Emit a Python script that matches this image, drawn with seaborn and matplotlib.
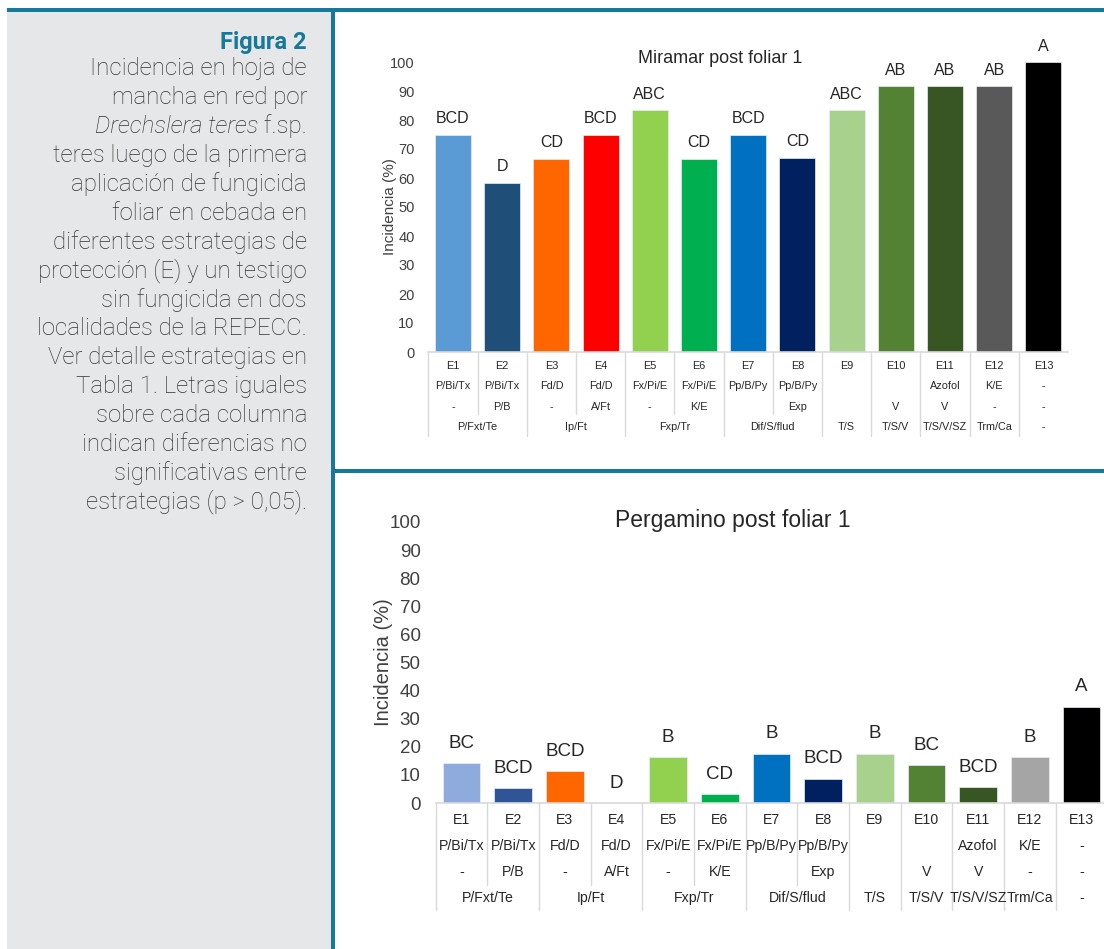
import numpy as np
import pandas as pd
import matplotlib
matplotlib.use("Agg")
import matplotlib.pyplot as plt
from matplotlib.patches import Rectangle
from matplotlib.transforms import blended_transform_factory
import seaborn as sns

# ---------------------------------------------------------------- data
estrategias = ["E1", "E2", "E3", "E4", "E5", "E6", "E7", "E8", "E9", "E10", "E11", "E12", "E13"]

miramar_incidencia = [75.0, 58.3, 66.7, 75.0, 83.3, 66.7, 75.0, 67.0, 83.3, 91.7, 91.7, 91.7, 100.0]
miramar_letras = ["BCD", "D", "CD", "BCD", "ABC", "CD", "BCD", "CD", "ABC", "AB", "AB", "AB", "A"]
miramar_colores = ["#5b9bd5", "#1f4e79", "#ff6600", "#ff0000", "#92d050", "#00b050", "#0070c0",
                   "#002060", "#a9d18e", "#548235", "#375623", "#595959", "#000000"]

pergamino_incidencia = [14.2, 5.3, 11.3, 0.0, 16.2, 3.2, 17.5, 8.7, 17.5, 13.4, 5.6, 16.3, 34.3]
pergamino_letras = ["BC", "BCD", "BCD", "D", "B", "CD", "B", "BCD", "B", "BC", "BCD", "B", "A"]
pergamino_colores = ["#8faadc", "#2f5597", "#ff6600", "#ff0000", "#92d050", "#00b050", "#0070c0",
                     "#002060", "#a9d18e", "#548235", "#375623", "#a5a5a5", "#000000"]

# rows of the category table under each chart
fila_aplicacion_1 = ["P/Bi/Tx", "P/Bi/Tx", "Fd/D", "Fd/D", "Fx/Pi/E", "Fx/Pi/E", "Pp/B/Py",
                     "Pp/B/Py", "", "", "Azofol", "K/E", "-"]
fila_aplicacion_2 = ["-", "P/B", "-", "A/Ft", "-", "K/E", "", "Exp", "", "V", "V", "-", "-"]
# treatment of the seed: (label, first strategy index, last strategy index)
fila_semilla = [("P/Fxt/Te", 0, 1), ("Ip/Ft", 2, 3), ("Fxp/Tr", 4, 5), ("Dif/S/flud", 6, 7),
                ("T/S", 8, 8), ("T/S/V", 9, 9), ("T/S/V/SZ", 10, 10), ("Trm/Ca", 11, 11),
                ("-", 12, 12)]

caption_lines = [
    "Incidencia en hoja de",
    "mancha en red por",
    None,  # mixed italic line, drawn separately
    "teres luego de la primera",
    "aplicación de fungicida",
    "foliar en cebada en",
    "diferentes estrategias de",
    "protección (E) y un testigo",
    "sin fungicida en dos",
    "localidades de la REPECC.",
    "Ver detalle estrategias en",
    "Tabla 1. Letras iguales",
    "sobre cada columna",
    "indican diferencias no",
    "significativas entre",
    "estrategias (p > 0,05).",
]

# ---------------------------------------------------------------- style
sns.set_theme(style="white")
plt.rcParams["font.family"] = ["Liberation Sans", "DejaVu Sans"]

W, H = 1104, 949
TEAL = "#17799a"
GRID = "#d9d9d9"
TXT = "#404040"

fig = plt.figure(figsize=(W / 100, H / 100), dpi=100)
fig.patch.set_facecolor("white")

# full-figure pixel canvas for the frame, side panel and caption
bg = fig.add_axes([0, 0, 1, 1], zorder=-1)
bg.set_xlim(0, W)
bg.set_ylim(H, 0)
bg.axis("off")

bg.add_patch(Rectangle((7, 10), 324, H - 10, color="#e6e7e8", lw=0))
bg.add_patch(Rectangle((7, 8), W - 7, 3.5, color=TEAL, lw=0))
bg.add_patch(Rectangle((331, 8), 3.5, H - 8, color=TEAL, lw=0))
bg.add_patch(Rectangle((334, 469), W - 334, 3.5, color=TEAL, lw=0))

# caption on the side panel
cap_font = dict(family=["Roboto", "DejaVu Sans"], fontsize=17.3, color="#333333",
                ha="right", va="center", fontweight="light")
bg.text(307, 42, "Figura 2", family=["Roboto", "DejaVu Sans"], fontsize=17,
        color=TEAL, ha="right", va="center", fontweight="bold")
renderer = fig.canvas.get_renderer()
for k, line in enumerate(caption_lines):
    y = 68.5 + 28.9 * k
    if line is None:
        t = bg.text(307, y, " f.sp.", **cap_font)
        w = t.get_window_extent(renderer).width
        bg.text(307 - w, y, "Drechslera teres", style="italic", **cap_font)
    else:
        bg.text(307, y, line, **cap_font)


def axes_px(left, top, right, bottom):
    return fig.add_axes([left / W, 1 - bottom / H, (right - left) / W, (bottom - top) / H])


def panel(box, values, colors, letters, title, title_xy, sizes, table_rows, sep_y):
    left, top, right, bottom = box
    ax = axes_px(left, top, right, bottom)
    df = pd.DataFrame({"estrategia": estrategias, "incidencia": values})
    sns.barplot(data=df, x="estrategia", y="incidencia", hue="estrategia",
                palette=colors, saturation=1, width=0.73, legend=False, ax=ax,
                edgecolor="#e8eef4", linewidth=0.5)
    ax.set_facecolor("none")
    ax.set_xlim(-0.5, 12.5)
    ax.set_ylim(0, 100)
    ax.set_yticks(np.arange(0, 101, 10))
    ax.tick_params(axis="y", length=0, labelsize=sizes["tick"], labelcolor=TXT, pad=sizes["pad"])
    ax.set_xticks([])
    ax.set_xlabel("")
    ax.set_ylabel("Incidencia (%)", fontsize=sizes["ylabel"], color=TXT, labelpad=sizes["ylpad"])
    for s in ["left", "top", "right"]:
        ax.spines[s].set_visible(False)
    ax.spines["bottom"].set_color(GRID)
    ax.spines["bottom"].set_linewidth(1.2)

    for i, (v, lab) in enumerate(zip(values, letters)):
        ax.annotate(lab, xy=(i, v), xytext=(0, sizes["loff"]), textcoords="offset pixels",
                    ha="center", va="center", fontsize=sizes["letter"], color="#262626")

    bg.text(title_xy[0], title_xy[1], title, fontsize=sizes["title"], color="#262626",
            ha="center", va="center")

    tr = blended_transform_factory(ax.transData, bg.transData)
    y1, y2, y3, y4 = table_rows
    fs = sizes["table"]
    for i, e in enumerate(estrategias):
        bg.text(i, y1, e, transform=tr, ha="center", va="center", fontsize=fs, color="#262626")
        bg.text(i, y2, fila_aplicacion_1[i], transform=tr, ha="center", va="center", fontsize=fs, color="#262626")
        bg.text(i, y3, fila_aplicacion_2[i], transform=tr, ha="center", va="center", fontsize=fs, color="#262626")
    for lab, a, b in fila_semilla:
        bg.text((a + b) / 2, y4, lab, transform=tr, ha="center", va="center", fontsize=fs, color="#262626")

    # table cell borders: full height between seed groups, partial inside groups
    full = [-0.5, 1.5, 3.5, 5.5, 7.5, 8.5, 9.5, 10.5, 11.5]
    partial = [0.5, 2.5, 4.5, 6.5]
    ytop, ypart, yfull = sep_y
    for b in full:
        bg.plot([b, b], [ytop, yfull], transform=tr, color=GRID, lw=1)
    for b in partial:
        bg.plot([b, b], [ytop, ypart], transform=tr, color=GRID, lw=1)
    return ax


panel((428.4, 62, 1068.0, 352), miramar_incidencia, miramar_colores, miramar_letras,
      "Miramar post foliar 1", (720, 58),
      dict(tick=10.5, pad=10, ylabel=11, ylpad=-5, letter=11.5, loff=16, title=13, table=7.8),
      (366, 386, 407, 427), (352, 414, 436))

panel((435.8, 522, 1107.3, 803), pergamino_incidencia, pergamino_colores, pergamino_letras,
      "Pergamino post foliar 1", (733, 520),
      dict(tick=13.5, pad=11, ylabel=14.5, ylpad=-2.5, letter=13.5, loff=20, title=16.5, table=10.2),
      (820, 846, 872, 898), (803, 885, 910))

fig.savefig("out.png", dpi=100)
